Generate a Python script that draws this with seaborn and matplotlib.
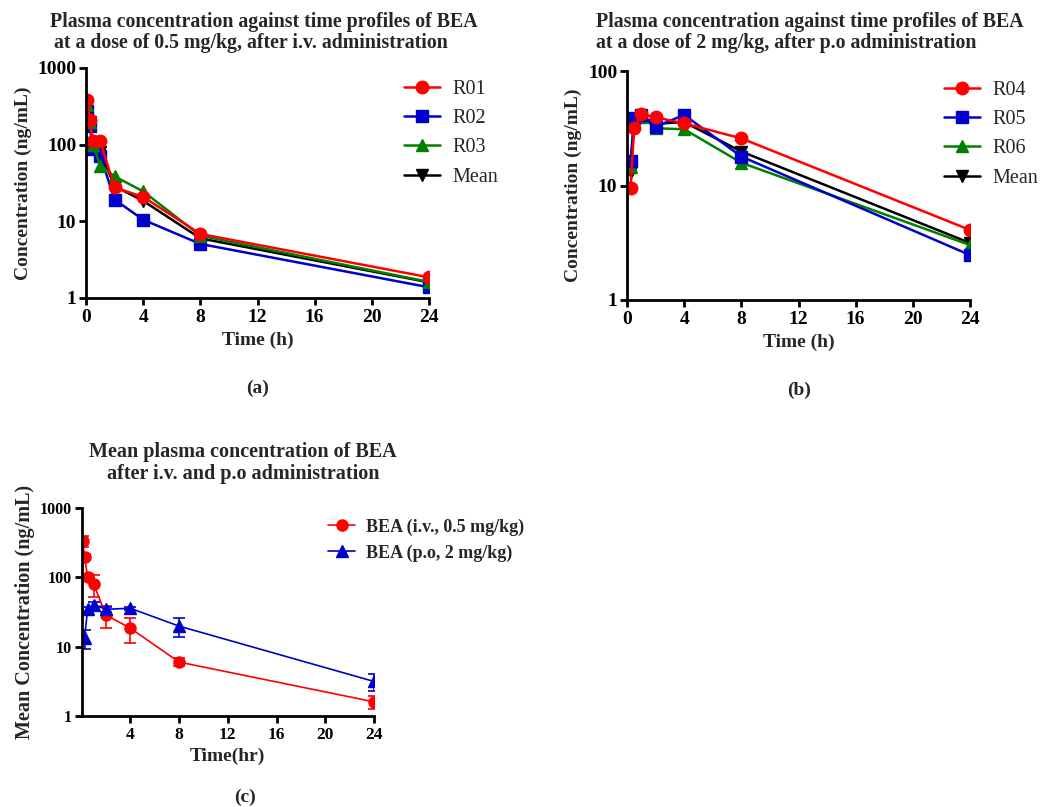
import matplotlib
matplotlib.use("Agg")
import matplotlib.pyplot as plt
import seaborn as sns
import numpy as np
import pandas as pd

# ---------------- data ----------------
t_iv = [0.083, 0.25, 0.5, 1, 2, 4, 8, 24]
R01 = [386, 212, 110, 110, 27.7, 20.8, 6.85, 1.86]
R02 = [272, 173, 88, 72, 19.2, 10.5, 5.07, 1.38]
R03 = [330, 200, 100, 53, 38.6, 24.6, 6.5, 1.62]
mean_iv = [335, 195, 102, 80, 28.7, 18.5, 6.0, 1.6]
sd_iv = [60, 20, 10, 28, 10, 7.2, 0.8, 0.33]

t_po = [0.25, 0.5, 1, 2, 4, 8, 24]
R04 = [9.46, 31.6, 42, 39.4, 34.9, 25.8, 4.09]
R05 = [16.4, 38.6, 41, 32.6, 41.3, 17.9, 2.47]
R06 = [14.4, 36, 40, 31.6, 31, 15.8, 3.02]
mean_po = [13.2, 34.5, 40.5, 34.6, 35.8, 19.8, 3.15]
sd_po = [4, 3, 3, 3, 2, 6, 0.83]

x_ticks = [0, 4, 8, 12, 16, 20, 24]
x_ticks_c = [4, 8, 12, 16, 20, 24]

# ---------------- style ----------------
sns.set_theme(style="ticks")
plt.rcParams['font.family'] = ['Liberation Serif', 'DejaVu Serif']
plt.rcParams['font.weight'] = 'bold'
plt.rcParams['axes.labelweight'] = 'bold'

W, H = 1040, 807
fig = plt.figure(figsize=(W / 100, H / 100), dpi=100)


def px(x0, y0, x1, y1):
    return [x0 / W, 1 - y1 / H, (x1 - x0) / W, (y1 - y0) / H]


ax_a = fig.add_axes(px(86, 68, 429, 298))
ax_b = fig.add_axes(px(627, 71, 970, 300))
ax_c = fig.add_axes(px(81.5, 508, 374, 716))

RED, BLUE, GREEN, BLACK = '#ff0000', '#0000cc', '#008000', '#000000'


def series(ax, t, y, color, marker, label, ms=9, lw=1.8):
    df = pd.DataFrame({'t': t, 'y': y})
    sns.lineplot(data=df, x='t', y='y', ax=ax, color=color, marker=marker,
                 markersize=ms, markeredgecolor=color, markeredgewidth=1,
                 linewidth=lw, label=label, errorbar=None)


def style_axes(ax, ylim, yticks, xt, xlabel, ylabel, ysize=14, tsize=14, xpad=4, ypad=4):
    ax.set_yscale('log')
    ax.set_ylim(*ylim)
    ax.set_xlim(0, 24)
    ax.set_xticks(xt)
    ax.set_xticklabels([str(v) for v in xt])
    ax.set_yticks(yticks)
    ax.set_yticklabels([str(v) for v in yticks])
    ax.yaxis.set_minor_locator(matplotlib.ticker.NullLocator())
    ax.xaxis.set_minor_locator(matplotlib.ticker.NullLocator())
    for s in ['top', 'right']:
        ax.spines[s].set_visible(False)
    for s in ['left', 'bottom']:
        ax.spines[s].set_linewidth(2)
        ax.spines[s].set_color('black')
    ax.tick_params(axis='both', direction='out', length=5, width=2,
                   labelsize=tsize, colors='black', pad=2)
    ax.tick_params(axis='x', pad=3)
    for lab in ax.get_xticklabels() + ax.get_yticklabels():
        lab.set_fontweight('bold')
    ax.set_xlabel(xlabel, fontsize=14, fontweight='bold', labelpad=xpad)
    ax.set_ylabel(ylabel, fontsize=ysize, fontweight='bold', labelpad=ypad)


# ---------------- panel a ----------------
series(ax_a, t_iv, mean_iv, BLACK, 'v', 'Mean')
series(ax_a, t_iv, R02, BLUE, 's', 'R02')
series(ax_a, t_iv, R03, GREEN, '^', 'R03')
series(ax_a, t_iv, R01, RED, 'o', 'R01')
style_axes(ax_a, (1, 1000), [1, 10, 100, 1000], x_ticks, 'Time (h)', 'Concentration (ng/mL)')
h, l = ax_a.get_legend_handles_labels()
order = [l.index(k) for k in ['R01', 'R02', 'R03', 'Mean']]
ax_a.legend([h[i] for i in order], [l[i] for i in order], loc='upper left',
            bbox_to_anchor=(396 / W, 1 - 72 / H), bbox_transform=fig.transFigure,
            frameon=False, prop={'family': 'Liberation Serif', 'weight': 'normal', 'size': 14.5},
            handlelength=1.8, handletextpad=0.6, labelspacing=0.5, borderaxespad=0)

# ---------------- panel b ----------------
series(ax_b, t_po, mean_po, BLACK, 'v', 'Mean')
series(ax_b, t_po, R06, GREEN, '^', 'R06')
series(ax_b, t_po, R05, BLUE, 's', 'R05')
series(ax_b, t_po, R04, RED, 'o', 'R04')
style_axes(ax_b, (1, 100), [1, 10, 100], x_ticks, 'Time (h)', 'Concentration (ng/mL)')
h, l = ax_b.get_legend_handles_labels()
order = [l.index(k) for k in ['R04', 'R05', 'R06', 'Mean']]
ax_b.legend([h[i] for i in order], [l[i] for i in order], loc='upper left',
            bbox_to_anchor=(936 / W, 1 - 73 / H), bbox_transform=fig.transFigure,
            frameon=False, prop={'family': 'Liberation Serif', 'weight': 'normal', 'size': 14.5},
            handlelength=1.8, handletextpad=0.6, labelspacing=0.5, borderaxespad=0)

# ---------------- panel c ----------------
series(ax_c, t_iv, mean_iv, RED, 'o', 'BEA (i.v., 0.5 mg/kg)', ms=8, lw=1.2)
ax_c.errorbar(t_iv, mean_iv, yerr=sd_iv, fmt='none', ecolor=RED, elinewidth=1.2, capsize=4, capthick=1.2)
series(ax_c, t_po, mean_po, BLUE, '^', 'BEA (p.o, 2 mg/kg)', ms=8, lw=1.2)
ax_c.errorbar(t_po, mean_po, yerr=sd_po, fmt='none', ecolor=BLUE, elinewidth=1.2, capsize=4, capthick=1.2)
style_axes(ax_c, (1, 1000), [1, 10, 100, 1000], x_ticks_c, 'Time(hr)', 'Mean Concentration (ng/mL)',
           ysize=14.5, tsize=11.5, xpad=3, ypad=3)
ax_c.tick_params(axis='x', labelsize=12.5)
ax_c.legend(loc='upper left', bbox_to_anchor=(321 / W, 1 - 511 / H), bbox_transform=fig.transFigure,
            frameon=False, prop={'family': 'Liberation Serif', 'weight': 'bold', 'size': 13},
            handlelength=1.5, handletextpad=0.6, labelspacing=0.5, borderaxespad=0)

# ---------------- titles & panel letters ----------------
TS = 14.3
fig.text(50 / W, 1 - 22 / H, 'Plasma concentration against time profiles of BEA',
         ha='left', va='center', fontsize=TS, fontweight='bold')
fig.text(54 / W, 1 - 43 / H, 'at a dose of 0.5 mg/kg, after i.v. administration',
         ha='left', va='center', fontsize=TS, fontweight='bold')
fig.text(596 / W, 1 - 22 / H, 'Plasma concentration against time profiles of BEA',
         ha='left', va='center', fontsize=TS, fontweight='bold')
fig.text(596 / W, 1 - 43 / H, 'at a dose of 2 mg/kg, after p.o administration',
         ha='left', va='center', fontsize=TS, fontweight='bold')
fig.text(243 / W, 1 - 452 / H, 'Mean plasma concentration of BEA',
         ha='center', va='center', fontsize=14.5, fontweight='bold')
fig.text(243 / W, 1 - 474 / H, 'after i.v. and p.o administration',
         ha='center', va='center', fontsize=14.5, fontweight='bold')
fig.text(258 / W, 1 - 388 / H, '(a)', ha='center', va='center', fontsize=14, fontweight='bold')
fig.text(799 / W, 1 - 390 / H, '(b)', ha='center', va='center', fontsize=14, fontweight='bold')
fig.text(245 / W, 1 - 797 / H, '(c)', ha='center', va='center', fontsize=14, fontweight='bold')

fig.savefig('out.png', dpi=100)
